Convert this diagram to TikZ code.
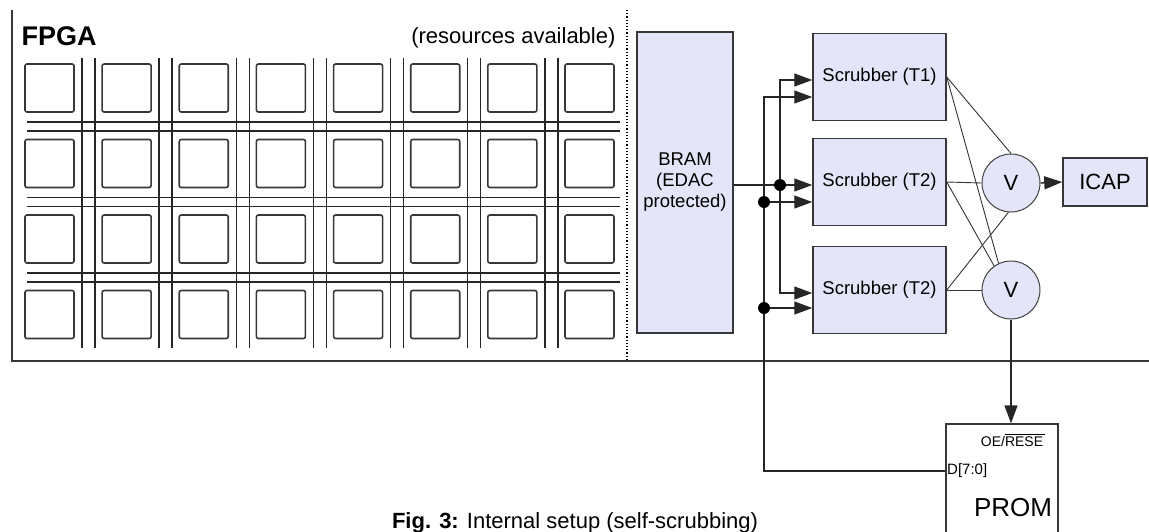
\documentclass[tikz,border=0pt]{standalone}
\usepackage{amsmath}
\usepackage{fontspec}
\setmainfont{Liberation Sans}
\usetikzlibrary{arrows.meta,positioning}
\definecolor{boxfill}{RGB}{229,229,249}
\definecolor{linegray}{RGB}{55,55,55}

\tikzset{
  block/.style={draw=linegray, line width=1.5pt, fill=boxfill, inner sep=0pt},
  cell/.style={draw=linegray, line width=1.6pt, rounded corners=2pt},
  track/.style={draw=black!85, line width=1.4pt},
  wire/.style={draw=black!85, line width=1.4pt},
  thinwire/.style={draw=black!80, line width=0.9pt},
  bus/.style={wire, -{Triangle[length=18pt, width=13pt]}},
  voter/.style={circle, draw=black!75, line width=1pt, fill=boxfill, minimum size=58pt, inner sep=0pt},
  junction/.style={circle, fill=black, inner sep=0pt, minimum size=12pt}
}

\begin{document}
\begin{tikzpicture}[x=1pt, y=-1pt]
            \useasboundingbox (0,0) rectangle (1149,531);

            % FPGA frame
            \draw[line width=1.6pt, linegray] (12,10) -- (12,361) -- (1149,361);
            \draw[dotted, line width=1.2pt] (627,10) -- (627,361);
            \node[anchor=base west, font=\bfseries\fontsize{27}{30}\selectfont] (fpga) at (18,45) {FPGA};
            \node[anchor=base east, font=\fontsize{22}{24}\selectfont] (res) at (619,43) {(resources available)};

            % Routing tracks
            \foreach \c in {0,...,6} {
              \draw[track] ({25+77.14*\c+57},58) -- ++(0,290);
              \draw[track] ({25+77.14*\c+70},58) -- ++(0,290);
            }
            \foreach \r in {0,...,2} {
              \draw[track] (27,{122+75.5*\r}) -- (620,{122+75.5*\r});
              \draw[track] (27,{131+75.5*\r}) -- (620,{131+75.5*\r});
            }

            % Logic cells
            \foreach \c in {0,...,7}
              \foreach \r in {0,...,3}
                \filldraw[cell, fill=white] ({25+77.14*\c},{64+75.5*\r}) rectangle ++(49,48);

            % Nodes
            \node[block, minimum width=96pt, minimum height=301pt, align=center,
                  font=\fontsize{18.5}{21}\selectfont] (bram) at (685,182.5) {BRAM\\(EDAC\\protected)};
            \node[block, minimum width=133pt, minimum height=87pt,
                  font=\fontsize{18.5}{21}\selectfont] (s1) at (879.5,77) {Scrubber (T1)};
            \node[block, minimum width=133pt, minimum height=87pt,
                  font=\fontsize{18.5}{21}\selectfont] (s2) at (879.5,182) {Scrubber (T2)};
            \node[block, minimum width=133pt, minimum height=87pt,
                  font=\fontsize{18.5}{21}\selectfont] (s3) at (879.5,290) {Scrubber (T2)};
            \node[voter, font=\fontsize{22}{24}\selectfont] (v1) at (1011,183) {V};
            \node[voter, font=\fontsize{22}{24}\selectfont] (v2) at (1011,290) {V};
            \node[block, minimum width=84pt, minimum height=48pt,
                  font=\fontsize{22}{24}\selectfont] (icap) at (1105,182) {ICAP};
            \node[block, fill=white, line width=1.3pt, minimum width=112pt, minimum height=140pt] (prom) at (1002,494) {};
            \node[font=\fontsize{14}{16}\selectfont] (oe) at (1013,440) {OE/$\overline{\text{RESE}\hspace{2pt}}$};
            \node[anchor=west, inner sep=1pt, font=\fontsize{15}{17}\selectfont] (pdata) at (946,471) {D[7:0]};
            \node[font=\fontsize{26}{28}\selectfont] (promlabel) at (1013,508) {PROM};

            % Caption
            \node[anchor=base, font=\fontsize{22}{24}\selectfont] (caption) at (575,528)
                 {\textbf{Fig. 3:} Internal setup (self-scrubbing)};

            % Ports
            \coordinate (s1a) at ([yshift=-3pt]s1.west);
            \coordinate (s1b) at ([yshift=-20pt]s1.west);
            \coordinate (s2a) at ([yshift=-3pt]s2.west);
            \coordinate (s2b) at ([yshift=-20pt]s2.west);
            \coordinate (s3a) at ([yshift=-3pt]s3.west);
            \coordinate (s3b) at ([yshift=-18pt]s3.west);
            \coordinate (xa) at (780,0);
            \coordinate (xb) at (764,0);

            % Edges
            \draw[bus] (bram.east |- s2a) -- (s2a);
            \draw[bus] (xa |- s2a) -- (xa |- s1a) -- (s1a);
            \draw[bus] (xa |- s2a) -- (xa |- s3a) -- (s3a);
            \draw[bus] (prom.west |- pdata) -| (xb |- s1b) -- (s1b);
            \draw[bus] (xb |- s2b) -- (s2b);
            \draw[bus] (xb |- s3b) -- (s3b);
            \node[junction] (ja) at (xa |- s2a) {};
            \node[junction] (jb) at (xb |- s2b) {};
            \node[junction] (jc) at (xb |- s3b) {};

            \draw[thinwire] (s1.east) -- (v1.north);
            \draw[thinwire] (s1.east) -- (v2.115);
            \draw[thinwire] (s2.east) -- (v1.west);
            \draw[thinwire] (s2.east) -- (v2.125);
            \draw[thinwire] (s3.east) -- (v2.west);
            \draw[thinwire] (s3.east) -- (v1.-95);
            \draw[bus] (v1.east) -- (icap.west);
            \draw[bus] (v2.south) -- (v2.south |- prom.north);
        \end{tikzpicture}
\end{document}
